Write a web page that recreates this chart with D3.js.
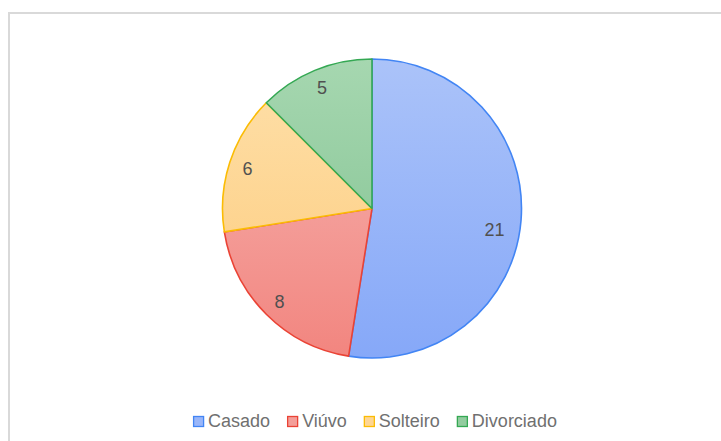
<!DOCTYPE html>
<html><head><meta charset="utf-8">
<script src="https://cdn.jsdelivr.net/npm/d3@7"></script>
<style>html,body{margin:0;padding:0;background:#fff;overflow:hidden}</style>
</head><body>
<svg id="chart" width="721" height="441"></svg>
<script>
const categories = ["Casado", "Viúvo", "Solteiro", "Divorciado"];
const values = [21, 8, 6, 5];
const strokeColors = ["#4285f4", "#ea4335", "#fbbc04", "#34a853"];
const topColors = ["#abc3f9", "#f6b6b3", "#fee0aa", "#a6d7b0"];
const bottomColors = ["#86a8f8", "#f2857f", "#fdcb7c", "#7ec08e"];

const svg = d3.select("#chart");
const cx = 372, cy = 208.5, R = 149.5;

svg.append("rect").attr("x", 9).attr("y", 13).attr("width", 900).attr("height", 600)
  .attr("fill", "none").attr("stroke", "#d9d9d9").attr("stroke-width", 2);

const defs = svg.append("defs");
categories.forEach((c, i) => {
  const g = defs.append("linearGradient").attr("id", "grad" + i)
    .attr("gradientUnits", "userSpaceOnUse")
    .attr("x1", 0).attr("y1", -R).attr("x2", 0).attr("y2", R);
  g.append("stop").attr("offset", "0%").attr("stop-color", topColors[i]);
  g.append("stop").attr("offset", "100%").attr("stop-color", bottomColors[i]);
});

const data = categories.map((c, i) => ({ name: c, value: values[i], i }));
const pie = d3.pie().value(d => d.value).sort(null);
const arcs = pie(data);
const arc = d3.arc().innerRadius(0).outerRadius(R);

const g = svg.append("g").attr("transform", `translate(${cx},${cy})`);
g.selectAll("path.slice").data(arcs).enter().append("path")
  .attr("class", "slice")
  .attr("d", arc)
  .attr("fill", d => `url(#grad${d.data.i})`)
  .attr("stroke", d => strokeColors[d.data.i])
  .attr("stroke-width", 1.6)
  .attr("stroke-linejoin", "round");

const labelR = 131;
g.selectAll("text.lbl").data(arcs).enter().append("text")
  .attr("class", "lbl")
  .attr("x", d => { const a = (d.startAngle + d.endAngle) / 2; return labelR * Math.sin(a) - (d.data.i === 0 ? 8 : 0); })
  .attr("y", d => { const a = (d.startAngle + d.endAngle) / 2; return -labelR * Math.cos(a) + (d.data.i === 0 ? 11 : 0); })
  .attr("dy", "0.36em")
  .attr("text-anchor", "middle")
  .attr("font-family", "Arial, 'Liberation Sans', sans-serif")
  .attr("font-size", 18)
  .attr("fill", "#505050")
  .text(d => d.data.value);

// legend
const legend = svg.append("g");
let x = 0;
data.forEach((d, i) => {
  const it = legend.append("g");
  it.append("rect").attr("x", 0.5).attr("y", -10.5).attr("width", 10).attr("height", 10)
    .attr("fill", d3.interpolateRgb(topColors[i], bottomColors[i])(0.5))
    .attr("stroke", strokeColors[i]).attr("stroke-width", 1.3);
  const t = it.append("text").attr("x", 15).attr("y", 0)
    .attr("font-family", "Arial, 'Liberation Sans', sans-serif")
    .attr("font-size", 18).attr("fill", "#707070").text(d.name);
  const w = 15 + t.node().getComputedTextLength();
  it.attr("transform", `translate(${x},0)`);
  x += w + 17;
});
const totalW = x - 17;
legend.attr("transform", `translate(${375 - totalW / 2},427)`);
</script>
</body></html>
